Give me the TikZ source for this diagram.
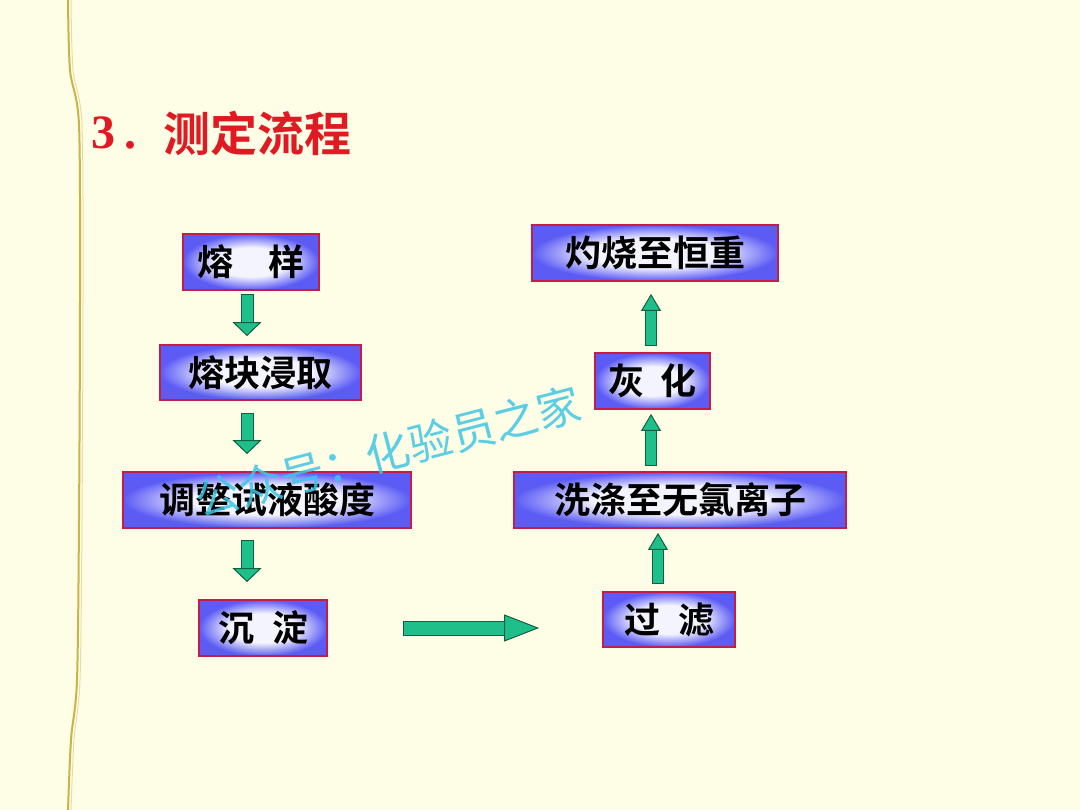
\documentclass[tikz,border=0pt]{standalone}
\usepackage{xcolor}
\usepackage{fontspec}
\usepackage{tikz}
\usetikzlibrary{arrows.meta,calc,positioning}
\newfontfamily\cjk{Noto Sans CJK SC}[BoldFont={Noto Sans CJK SC Bold}]
\newfontfamily\numfont{Liberation Serif}
\definecolor{flowPaper}{HTML}{FEFDE6}
\definecolor{flowBlue}{HTML}{5C5CF5}
\definecolor{flowLight}{HTML}{F4F4FF}
\definecolor{flowEdge}{HTML}{C41E48}
\definecolor{flowGreen}{HTML}{1FBF8C}
\definecolor{flowGreenEdge}{HTML}{11603F}
\definecolor{flowTitle}{HTML}{E01A22}
\definecolor{flowRule}{HTML}{C9B447}
\definecolor{flowMark}{HTML}{3EC6E4}
\pgfdeclareradialshading{flowshade}{\pgfpoint{0bp}{0bp}}{%
  color(0bp)=(flowLight); color(13bp)=(flowLight); color(25bp)=(flowBlue); color(50bp)=(flowBlue)}
\tikzset{
  flowbox/.style={draw=flowEdge,line width=1.8pt,shading=flowshade,minimum height=56pt,
                  inner sep=0pt,font=\cjk\bfseries\fontsize{36}{40}\selectfont},
  flowarrow/.style n args={3}{draw=flowGreen,line width=#1,
    -{Triangle[width=#2,length=#3,fill=flowGreen,color=flowGreenEdge,line width=1pt]},
    preaction={draw=flowGreenEdge,line width=#1+2pt,-,shorten >=#3-1pt,shorten <=-1pt}},
  flowdown/.style={flowarrow={11pt}{29pt}{14pt}},
  flowup/.style={flowarrow={10pt}{20pt}{17pt}},
  flowright/.style={flowarrow={13pt}{27pt}{35pt}},
  flowtitle/.style={text=flowTitle,inner sep=0pt,anchor=west},
}
\begin{document}
\begin{tikzpicture}[x=1pt,y=-1pt]
  \fill[flowPaper] (0,0) rectangle (1080,810);
  \useasboundingbox (0,0) rectangle (1080,810);
  % margin rule
  \draw[flowRule,line width=2pt] plot[smooth] coordinates {(68,0) (70,70) (79,125) (80,300) (79,520) (77,680) (71,740) (68,810)};
  \draw[flowRule!45,line width=1pt] plot[smooth] coordinates {(71,0) (73,70) (82,125) (83,300) (82,520) (80,680) (74,740) (71,810)};

  % title
  \node[flowtitle,font=\numfont\bfseries\fontsize{48}{50}\selectfont] (num) at (91,133) {3\hspace{0.2em}.};
  \node[flowtitle,font=\cjk\bfseries\fontsize{47}{50}\selectfont] (title) at (163,133) {测定流程};

  % left column
  \node[flowbox,minimum width=136pt] (melt) at (251,262) {熔\hspace{0.95em}样};
  \node[flowbox,minimum width=201pt,minimum height=55pt] (leach) at (260.5,372.5) {熔块浸取};
  \node[flowbox,minimum width=288pt] (acid) at (267,500) {调整试液酸度};
  \node[flowbox,minimum width=128pt] (precip) at (263,628) {沉\hspace{0.5em}淀};

  % right column
  \node[flowbox,minimum width=246pt] (ignite) at (655,253) {灼烧至恒重};
  \node[flowbox,minimum width=115pt] (ash) at (652.5,381) {灰\hspace{0.45em}化};
  \node[flowbox,minimum width=332pt] (wash) at (680,500) {洗涤至无氯离子};
  \node[flowbox,minimum width=132pt,minimum height=55pt] (filter) at (669,619.5) {过\hspace{0.5em}滤};

  \coordinate (colL) at (247,0);
  \coordinate (colR) at (651,0);
  \coordinate (colF) at (658,0);

  \draw[flowdown] ($(melt.south -| colL)+(0,4)$) -- ($(leach.north -| colL)+(0,-8)$);
  \draw[flowdown] ($(leach.south -| colL)+(0,13)$) -- ($(acid.north -| colL)+(0,-17)$);
  \draw[flowdown] ($(acid.south -| colL)+(0,12)$) -- ($(precip.north -| colL)+(0,-17)$);
  \draw[flowright] ($(precip.east)+(76,0)$) -- ($(precip.east -| filter.west)+(-63,0)$);
  \draw[flowup] ($(filter.north -| colF)+(0,-8)$) -- ($(wash.south -| colF)+(0,4)$);
  \draw[flowup] ($(wash.north -| colR)+(0,-6)$) -- ($(ash.south -| colR)+(0,4)$);
  \draw[flowup] ($(ash.north -| colR)+(0,-7)$) -- ($(ignite.south -| colR)+(0,12)$);

  % watermark
  \node[text=flowMark,opacity=0.85,rotate=14.5,font=\cjk\fontsize{44}{46}\selectfont] (mark) at (388,452) {公众号：化验员之家};
\end{tikzpicture}
\end{document}
